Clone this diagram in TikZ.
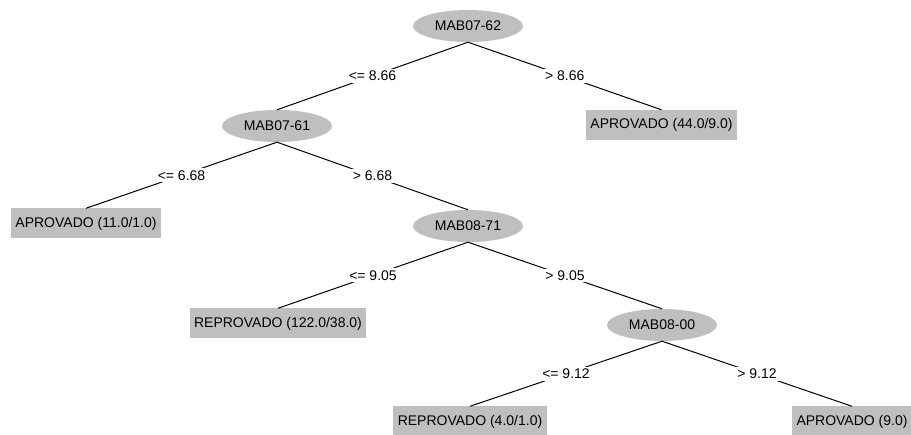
\documentclass[tikz,border=0pt]{standalone}
\usepackage{fontspec}
\setmainfont{Liberation Sans}
\usetikzlibrary{shapes.geometric}

\begin{document}
\begin{tikzpicture}[x=1pt, y=-1pt,
    font=\fontsize{14}{16}\selectfont,
    split/.style={ellipse, fill=black!25, minimum width=110pt, minimum height=32pt, inner sep=0pt},
    leaf/.style={rectangle, fill=black!25, minimum height=30pt, inner xsep=4.5pt},
    cond/.style={fill=white, inner sep=2pt}]

    \useasboundingbox (0,0) rectangle (911,435);

    \node[split] (MAB0762) at (468,26) {MAB07-62};
    \node[split] (MAB0761) at (277,126) {MAB07-61};
    \node[leaf] (AprA) at (661.5,125) {APROVADO (44.0/9.0)};
    \node[leaf] (AprB) at (86,223.5) {APROVADO (11.0/1.0)};
    \node[split] (MAB0871) at (468,226) {MAB08-71};
    \node[leaf] (RepA) at (278,323.5) {REPROVADO (122.0/38.0)};
    \node[split] (MAB0800) at (662,325) {MAB08-00};
    \node[leaf] (RepB) at (470,421.5) {REPROVADO (4.0/1.0)};
    \node[leaf, minimum width=120pt] (AprC) at (852,421.5) {APROVADO (9.0)};

    \draw[line width=1pt] (MAB0762.south) -- node[cond] {<= 8.66} (MAB0761.north);
    \draw[line width=1pt] (MAB0762.south) -- node[cond] {> 8.66} (AprA.north);
    \draw[line width=1pt] (MAB0761.south) -- node[cond] {<= 6.68} (AprB.north);
    \draw[line width=1pt] (MAB0761.south) -- node[cond] {> 6.68} (MAB0871.north);
    \draw[line width=1pt] (MAB0871.south) -- node[cond] {<= 9.05} (RepA.north);
    \draw[line width=1pt] (MAB0871.south) -- node[cond] {> 9.05} (MAB0800.north);
    \draw[line width=1pt] (MAB0800.south) -- node[cond] {<= 9.12} (RepB.north);
    \draw[line width=1pt] (MAB0800.south) -- node[cond] {> 9.12} (AprC.north);

\end{tikzpicture}
\end{document}
